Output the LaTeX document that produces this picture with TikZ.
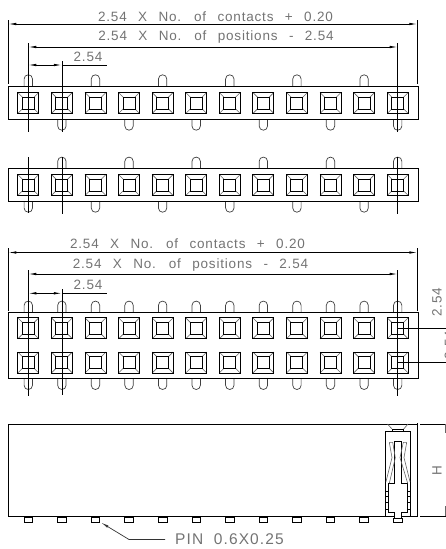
\documentclass[tikz,border=0pt]{standalone}
\usepackage{fontspec}
\newfontfamily\dimfont[LetterSpace=6,WordSpace=2.5]{Liberation Sans}
\newfontfamily\pinfont[LetterSpace=7,WordSpace=2]{Liberation Sans}
\usetikzlibrary{arrows.meta}
\tikzset{
  ln/.style={line width=0.8pt,black},
  thn/.style={line width=0.6pt,black!60},
  dimtxt/.style={text=black!55,font=\dimfont\fontsize{13.5}{15}\selectfont,inner sep=0,anchor=base},
  pintxt/.style={text=black!55,font=\pinfont\fontsize{15.5}{17}\selectfont,inner sep=0},
  darrb/.style={line width=0.8pt,black,{Latex[length=8pt,width=2.5pt]}-{Latex[length=8pt,width=2.5pt]}},
}
\newcommand{\sq}[2]{%
  \draw[thn] (#1-10.5,#2-10.5)--(#1+10.5,#2+10.5) (#1-10.5,#2+10.5)--(#1+10.5,#2-10.5);
  \fill[white] (#1-6,#2-6) rectangle (#1+6,#2+6);
  \draw[line width=0.9pt] (#1-10.5,#2-10.5) rectangle (#1+10.5,#2+10.5);
  \draw[line width=0.9pt] (#1-6,#2-6) rectangle (#1+6,#2+6);
}
\newcommand{\pinup}[2]{\draw[line width=0.7pt,black!75] (#1-4.2,#2)--(#1-4.2,#2-7) .. controls (#1-4.2,#2-9.5) and (#1-2.3,#2-11.2) .. (#1,#2-11.2) .. controls (#1+2.3,#2-11.2) and (#1+4.2,#2-9.5) .. (#1+4.2,#2-7)--(#1+4.2,#2);}
\newcommand{\pindn}[2]{\draw[line width=0.7pt,black!75] (#1-4.2,#2)--(#1-4.2,#2+7) .. controls (#1-4.2,#2+9.5) and (#1-2.3,#2+11.2) .. (#1,#2+11.2) .. controls (#1+2.3,#2+11.2) and (#1+4.2,#2+9.5) .. (#1+4.2,#2+7)--(#1+4.2,#2);}
\begin{document}
\begin{tikzpicture}[x=1pt,y=-1pt]
\useasboundingbox (0,0) rectangle (446,549);
\clip (0,0) rectangle (446,549);
% ---- strip 1
\foreach \i in {0,2,...,10}{\pgfmathsetmacro{\xx}{28.3+33.58*\i}\pinup{\xx}{86}}
\foreach \i in {1,3,...,11}{\pgfmathsetmacro{\xx}{28.3+33.58*\i}\pindn{\xx}{119}}
\draw[ln] (8.3,86) rectangle (418.5,119);
\foreach \i in {0,...,11}{\pgfmathsetmacro{\xx}{28.3+33.58*\i}\sq{\xx}{103}}
\coordinate (a1) at (8.3,24); \coordinate (a2) at (417.3,24);
\coordinate (b1) at (28.3,47); \coordinate (b2) at (397.7,47);
\coordinate (c1) at (28.3,65); \coordinate (c2) at (61.9,65); \coordinate (c3) at (107,65);
\draw[ln] (8.3,20)--(8.3,84) (417.3,20)--(417.3,84);
\draw[ln] (28.3,43)--(28.3,132) (397.7,43)--(397.7,132) (61.9,61)--(61.9,132);
\draw[darrb] (a1)--(a2);
\draw[darrb] (b1)--(b2);
\draw[darrb] (c1)--(c2);
\draw[ln] (c2)--(c3);
\node[dimtxt] (t1) at (215.5,21) {2.54 X No. of contacts + 0.20};
\node[dimtxt] (t2) at (216,40) {2.54 X No. of positions - 2.54};
\node[dimtxt] (t3) at (88,61.5) {2.54};
% ---- strip 2
\foreach \i in {1,3,...,11}{\pgfmathsetmacro{\xx}{28.3+33.58*\i}\pinup{\xx}{168.3}}
\foreach \i in {0,2,...,10}{\pgfmathsetmacro{\xx}{28.3+33.58*\i}\pindn{\xx}{201}}
\draw[ln] (8.3,168.3) rectangle (418.5,201);
\foreach \i in {0,...,11}{\pgfmathsetmacro{\xx}{28.3+33.58*\i}\sq{\xx}{185}}
\draw[ln] (28.3,157)--(28.3,213) (61.9,157)--(61.9,214) (397.7,157)--(397.7,214);
% ---- strip 3
\foreach \i in {0,...,11}{\pgfmathsetmacro{\xx}{28.3+33.58*\i}\pinup{\xx}{312.3}\pindn{\xx}{378.3}}
\draw[ln] (8.3,312.3) rectangle (418.5,378.3);
\foreach \i in {0,...,11}{\pgfmathsetmacro{\xx}{28.3+33.58*\i}\sq{\xx}{328.3}\sq{\xx}{362.5}}
\coordinate (d1) at (8.3,252.5); \coordinate (d2) at (417.3,252.5);
\coordinate (e1) at (28.3,274); \coordinate (e2) at (397.7,274);
\coordinate (f1) at (28.3,293.3); \coordinate (f2) at (61.9,293.3); \coordinate (f3) at (107,293.3);
\draw[ln] (8.3,248)--(8.3,311) (417.3,248)--(417.3,311);
\draw[ln] (28.3,270)--(28.3,396) (397.7,270)--(397.7,396) (61.9,289)--(61.9,395);
\draw[darrb] (d1)--(d2);
\draw[darrb] (e1)--(e2);
\draw[darrb] (f1)--(f2);
\draw[ln] (f2)--(f3);
\node[dimtxt] (t4) at (187.5,248) {2.54 X No. of contacts + 0.20};
\node[dimtxt] (t5) at (190.5,268) {2.54 X No. of positions - 2.54};
\node[dimtxt] (t6) at (88,289.5) {2.54};
\draw[ln] (397.7,328.3)--(446,328.3) (397.7,362.3)--(446,362.3);
\node[dimtxt,rotate=90,anchor=center] (t7) at (437,302) {2.54};
\node[dimtxt,rotate=90,anchor=center] (t8) at (449.5,345.5) {2.54};
% ---- side view
\draw[ln] (418,424)--(8.3,424)--(8.3,516)--(394,516);
\draw[ln] (401.7,516)--(418,516);
\draw[ln] (417.3,423)--(417.3,516);
\draw[ln] (420,424)--(446,424) (420,516)--(446,516);
\draw[line width=0.7pt,black!60] (445.5,424)--(445.5,433) (445.5,506)--(445.5,516);
\node[dimtxt,rotate=90,anchor=center] (t9) at (437,470.7) {H};
\foreach \i in {0,...,10}{\pgfmathsetmacro{\xx}{28.3+33.58*\i}\draw[line width=0.7pt] (\xx-4.3,517.2) rectangle (\xx+4.3,522);}
% cut view
\draw[ln] (385.3,516)--(385.3,431)--(410.7,431)--(410.7,516);
\draw[thn] (387.5,424)--(392,429) (408,424)--(403.7,429);
\draw[ln] (392,431)--(392,429)--(403.7,429)--(403.7,431);
\draw[ln] (394.3,518)--(394.3,512)--(388.3,512)--(388.3,483.5)--(394.7,483.5)--(394.7,441)--(401.7,441)--(401.7,483.5)--(407.7,483.5)--(407.7,512)--(401.7,512)--(401.7,518);
\draw[line width=0.7pt] (393.3,518) rectangle (402,522.3);
\draw[thn] (389.3,442.3)--(392,457.7)--(386,481.7) (392.7,442.3)--(395.3,457.7)--(389.3,483.3) (389.3,442.3)--(392.7,442.3);
\draw[thn] (406.7,442.3)--(404,457.7)--(410,481.7) (403.3,442.3)--(400,457.7)--(407.7,483.3) (403.3,442.3)--(406.7,442.3);
\draw[ln] (385.3,491.7)--(388.3,491.7) (385.3,496.7)--(388.3,496.7) (385.3,502.3)--(388.3,502.3) (385.3,509)--(388.3,509);
\draw[ln] (407.7,491.7)--(410.7,491.7) (407.7,496.7)--(410.7,496.7) (407.7,502.3)--(410.7,502.3) (407.7,509)--(410.7,509);
% PIN
\coordinate (p0) at (101,522.5); \coordinate (p1) at (129,539.5); \coordinate (p2) at (165,539.5);
\draw[line width=0.7pt,black!80,{Latex[length=8pt,width=2.5pt]}-] (p0)--(p1)--(p2);
\node[pintxt,anchor=west] (t10) at (175,539.5) {PIN 0.6X0.25};
\end{tikzpicture}
\end{document}
